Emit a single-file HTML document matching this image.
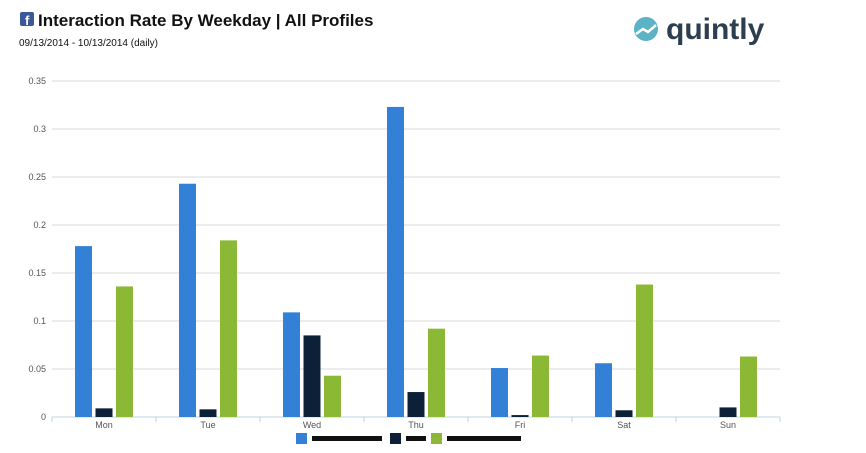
<!DOCTYPE html>
<html><head><meta charset="utf-8"><style>
body{margin:0;background:#fff;font-family:"Liberation Sans",sans-serif;}
svg{display:block}
</style></head><body>
<svg width="866" height="453">
<rect x="20" y="12" width="14" height="14" rx="2" fill="#3b5998"/>
<text x="25" y="25" font-size="13" font-weight="bold" fill="#fff">f</text>
<text x="38" y="26" font-size="17" font-weight="bold" fill="#111">Interaction Rate By Weekday | All Profiles</text>
<text x="19" y="46" font-size="10" fill="#111">09/13/2014 - 10/13/2014 (daily)</text>
<g>
<circle cx="646" cy="29" r="12" fill="#5ab4c5"/>
<path d="M636 34 L643 29 L648 32 L656 25" stroke="#fff" stroke-width="2.5" fill="none"/>
<text x="666" y="39" font-size="30" font-weight="bold" fill="#2c3e50">quintly</text>
</g>
<g id="grid"></g><g id="bars"></g><g id="axis"></g>
<g>
<rect x="296" y="433" width="11" height="11" fill="#3380d7"/>
<rect x="312" y="436" width="70" height="5" fill="#111"/>
<rect x="390" y="433" width="11" height="11" fill="#0c2138"/>
<rect x="406" y="436" width="20" height="5" fill="#111"/>
<rect x="431" y="433" width="11" height="11" fill="#8cb935"/>
<rect x="447" y="436" width="74" height="5" fill="#111"/>
</g>
</svg>
<script>
const categories=["Mon","Tue","Wed","Thu","Fri","Sat","Sun"];
const series1=[0.178,0.243,0.109,0.323,0.051,0.056,0];
const series2=[0.009,0.008,0.085,0.026,0.002,0.007,0.010];
const series3=[0.136,0.184,0.043,0.092,0.064,0.138,0.063];
const yTicks=[0,0.05,0.1,0.15,0.2,0.25,0.3,0.35];
const yTickLabels=["0","0.05","0.1","0.15","0.2","0.25","0.3","0.35"];
const NS="http://www.w3.org/2000/svg";
const x0=52,x1=780,yb=417,yt=81,ymax=0.35;
const y=v=>yb-(v/ymax)*(yb-yt);
const band=(x1-x0)/categories.length;
const xc=i=>x0+band*(i+0.5);
function mk(t,a,p){const e=document.createElementNS(NS,t);for(const k in a)e.setAttribute(k,a[k]);p.appendChild(e);return e;}
const grid=document.getElementById('grid'),bars=document.getElementById('bars'),axis=document.getElementById('axis');
yTicks.forEach((v,i)=>{
 const l=mk('line',{x1:x0,x2:x1,y1:y(v),y2:y(v),stroke:i===0?'#c0d0e0':'#d8d8d8','stroke-width':1},grid);
 
 
 const t=mk('text',{x:46,y:y(v)+3,'font-size':9,fill:'#555','text-anchor':'end'},axis);
 t.textContent=yTickLabels[i];
 
 
});
const sers=[[series1,'#3380d7',-20.5],[series2,'#0c2138',0],[series3,'#8cb935',20.5]];
categories.forEach((c,i)=>{
 sers.forEach(([s,col,off],k)=>{
  if(s[i]<=0)return;
  const r=mk('rect',{x:xc(i)+off-8.5,y:y(s[i]),width:17,height:yb-y(s[i]),fill:col},bars);
  
  
 });
 const t=mk('text',{x:xc(i),y:428,'font-size':9,fill:'#555','text-anchor':'middle'},axis);
 t.textContent=c;
 
 
});
for(let i=0;i<=categories.length;i++){
 const l=mk('line',{x1:x0+band*i,x2:x0+band*i,y1:yb,y2:yb+5,stroke:'#c0d0e0'},axis);
 
 
}
</script>
</body></html>
